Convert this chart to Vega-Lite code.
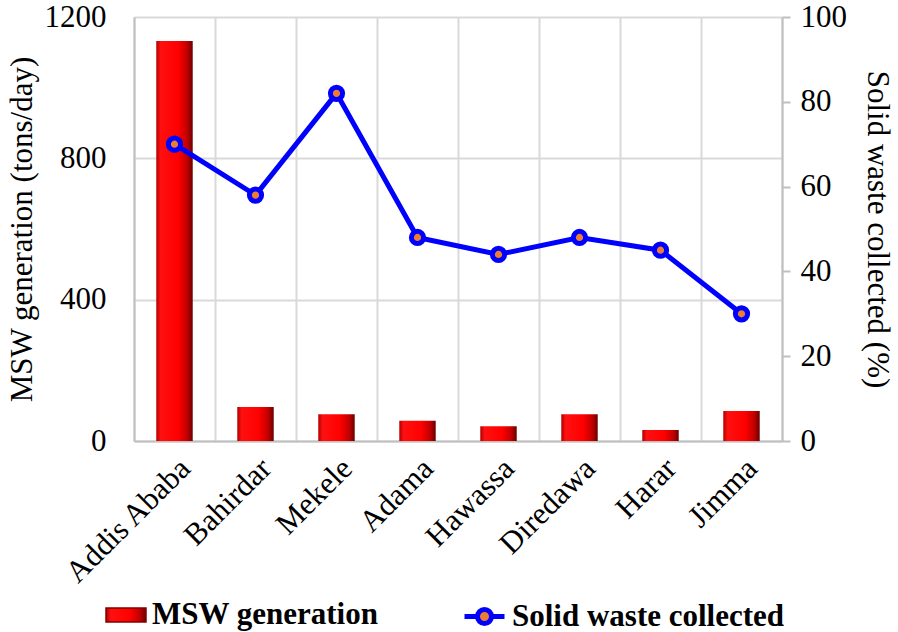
{
  "$schema": "https://vega.github.io/schema/vega-lite/v6.json",
  "width": 648,
  "height": 424,
  "autosize": {"type": "none"},
  "padding": {"left": 134, "top": 17, "right": 116, "bottom": 191},
  "view": {"stroke": null},
  "data": {
    "values": [
      {"city": "Addis Ababa", "msw": 1132, "collected": 70},
      {"city": "Bahirdar", "msw": 96, "collected": 58},
      {"city": "Mekele", "msw": 76, "collected": 82},
      {"city": "Adama", "msw": 57, "collected": 48},
      {"city": "Hawassa", "msw": 42, "collected": 44},
      {"city": "Diredawa", "msw": 76, "collected": 48},
      {"city": "Harar", "msw": 31, "collected": 45},
      {"city": "Jimma", "msw": 85, "collected": 30}
    ]
  },
  "encoding": {
    "x": {
      "field": "city",
      "type": "nominal",
      "sort": null,
      "scale": {"paddingInner": 0, "paddingOuter": 0},
      "axis": {
        "title": null,
        "labelAngle": -45,
        "labelFont": "Times New Roman",
        "labelFontSize": 31,
        "labelColor": "#000000",
        "domainColor": "#bfbfbf",
        "domainWidth": 2,
        "gridColor": "#d9d9d9",
        "gridWidth": 2,
        "ticks": false,
        "grid": true,
        "tickBand": "extent",
        "labelPadding": 12,
        "labelLimit": 300
      }
    }
  },
  "layer": [
    {
      "mark": {
        "type": "bar",
        "width": {"band": 0.45},
        "strokeWidth": 0,
        "color": {
          "gradient": "linear",
          "x1": 0, "y1": 0, "x2": 1, "y2": 0,
          "stops": [
            {"offset": 0, "color": "#b00000"},
            {"offset": 0.12, "color": "#ff1010"},
            {"offset": 0.6, "color": "#ff0000"},
            {"offset": 0.85, "color": "#c00000"},
            {"offset": 1, "color": "#6a0000"}
          ]
        }
      },
      "encoding": {
        "y": {
          "field": "msw",
          "type": "quantitative",
          "scale": {"domain": [0, 1200], "nice": false},
          "axis": {
            "title": "MSW generation (tons/day)",
            "values": [0, 400, 800, 1200],
            "format": "d",
            "labelFont": "Times New Roman",
            "labelFontSize": 31,
            "labelColor": "#000000",
            "titleFont": "Times New Roman",
            "titleFontSize": 31,
            "titleFontWeight": "normal",
            "titleColor": "#000000",
            "domainColor": "#bfbfbf",
            "domainWidth": 2,
            "gridColor": "#d9d9d9",
            "gridWidth": 2,
            "ticks": false,
            "grid": true,
            "labelPadding": 28,
            "titlePadding": 6
          }
        },
        "stroke": {
          "datum": "MSW generation",
          "type": "nominal",
          "scale": {"range": ["#800000"]},
          "legend": {
            "orient": "none",
            "legendX": -29,
            "legendY": 577,
            "title": null,
            "padding": 0,
            "symbolType": "M-1,-0.35H1V0.35H-1Z",
            "symbolSize": 1600,
            "labelFont": "Times New Roman",
            "labelFontSize": 31,
            "labelFontWeight": "bold",
            "labelColor": "#000000",
            "labelOffset": 5,
            "labelLimit": 400,
            "encode": {
              "symbols": {
                "update": {
                  "fill": {"value": {
                    "gradient": "linear",
                    "x1": 0, "y1": 0, "x2": 0, "y2": 1,
                    "stops": [
                      {"offset": 0, "color": "#ff0000"},
                      {"offset": 0.5, "color": "#e00000"},
                      {"offset": 1, "color": "#800000"}
                    ]
                  }},
                  "stroke": {"value": "#900000"},
                  "strokeWidth": {"value": 1},
                  "opacity": {"value": 1}
                }
              }
            }
          }
        }
      }
    },
    {
      "encoding": {
        "y": {
          "field": "collected",
          "type": "quantitative",
          "scale": {"domain": [0, 100], "nice": false},
          "axis": {
            "orient": "right",
            "title": "Solid waste collected (%)",
            "values": [0, 20, 40, 60, 80, 100],
            "labelFont": "Times New Roman",
            "labelFontSize": 31,
            "labelColor": "#000000",
            "titleFont": "Times New Roman",
            "titleFontSize": 31,
            "titleFontWeight": "normal",
            "titleColor": "#000000",
            "domainColor": "#bfbfbf",
            "domainWidth": 2,
            "tickColor": "#bfbfbf",
            "tickWidth": 2,
            "grid": false,
            "ticks": true,
            "tickSize": 8,
            "labelPadding": 10,
            "titlePadding": 14
          }
        }
      },
      "layer": [
        {
          "mark": {"type": "line", "strokeWidth": 5},
          "encoding": {
            "color": {
              "datum": "Solid waste collected",
              "type": "nominal",
              "scale": {"range": ["#0000ff"]},
              "legend": {
                "orient": "none",
                "legendX": 328,
                "legendY": 577,
                "title": null,
                "padding": 0,
                "symbolType": "M-1,0H-0.35M0.35,0H1M-0.35,0A0.35,0.35,0,1,1,0.35,0A0.35,0.35,0,1,1,-0.35,0Z",
                "symbolSize": 1600,
                "labelFont": "Times New Roman",
                "labelFontSize": 31,
                "labelFontWeight": "bold",
                "labelColor": "#000000",
                "labelOffset": 5,
                "labelLimit": 400,
                "encode": {
                  "symbols": {
                    "update": {
                      "fill": {"value": "#ED7D31"},
                      "stroke": {"value": "#0000ff"},
                      "strokeWidth": {"value": 5},
                      "opacity": {"value": 1}
                    }
                  }
                }
              }
            }
          }
        },
        {
          "mark": {
            "type": "point",
            "filled": true,
            "fill": "#ED7D31",
            "stroke": "#0000ff",
            "strokeWidth": 5,
            "size": 150,
            "opacity": 1
          }
        }
      ]
    }
  ],
  "resolve": {"scale": {"y": "independent"}}
}
